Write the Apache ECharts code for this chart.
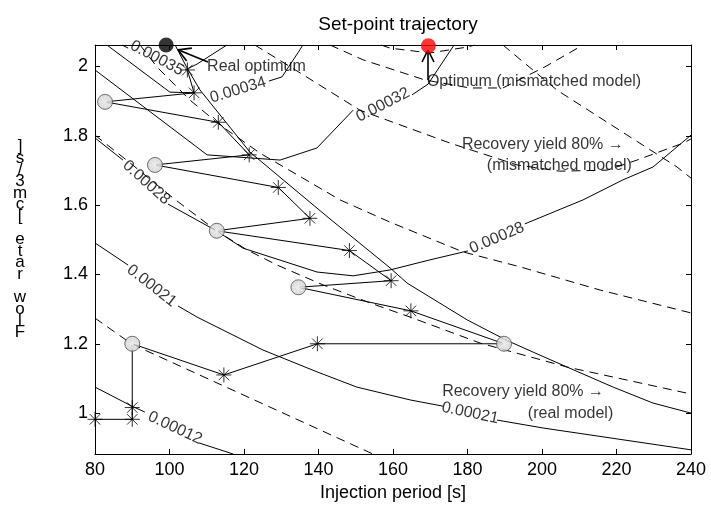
<!DOCTYPE html>
<html>
<head>
<meta charset="utf-8">
<script src="https://cdn.jsdelivr.net/npm/echarts@6/dist/echarts.min.js"></script>
<style>
  html, body { margin: 0; padding: 0; background: #fff; }
  #box { width: 711px; height: 509px; }
</style>
</head>
<body>
<div id="box"></div>
<script>
  // axis ticks
  const xTicks = [80, 100, 120, 140, 160, 180, 200, 220, 240];
  const yTicks = [1, 1.2, 1.4, 1.6, 1.8, 2];

  // set-point trajectory (injection period [s], flow rate [cm3/s])
  const trajPeriod = [80, 90, 90, 90, 114.6, 139.7, 189.8, 164.8, 134.6, 159.5, 148.3, 112.7, 137.7, 129.2, 96.1, 121.4, 113.1, 82.7, 106.6, 104.8];
  const trajFlow = [0.982, 0.982, 1.016, 1.2, 1.11, 1.2, 1.2, 1.295, 1.363, 1.382, 1.469, 1.526, 1.562, 1.651, 1.716, 1.745, 1.839, 1.898, 1.924, 1.99];
  const trajIsSetPoint = [0, 0, 0, 1, 0, 0, 1, 0, 1, 0, 0, 1, 0, 0, 1, 0, 0, 1, 0, 0];

  const realOptimum = [99.1, 2.062];
  const mismatchOptimum = [169.5, 2.06];

  // productivity contours, real model (null = gap for inline label)
  const c12Period = [80, 89.9, 93.4, null, 107.9, 117.1];
  const c12Flow = [1.075, 1.020, 1.003, null, 0.914, 0.882];
  const c21Period = [80, 88.9, null, 102.3, 107.4, 125.1, 139.6, 150.3, 164.6, 173.4, null, 187.9, 200.3, 240];
  const c21Flow = [1.491, 1.427, null, 1.309, 1.277, 1.182, 1.119, 1.075, 1.038, 1.020, null, 0.980, 0.957, 0.894];
  const c28Period = [80, 87.5, null, 99.6, 112.75, 119.7, 139.6, 149.3, 159.2, 169.9, 180.1, null, 195.4, 211.0, 221.75, 229.8, 240];
  const c28Flow = [1.794, 1.730, null, 1.603, 1.525, 1.476, 1.407, 1.396, 1.413, 1.442, 1.468, null, 1.546, 1.615, 1.673, 1.710, 1.802];
  const c32Period = [80, 110.1, 129.7, 139.6, 149.3, null, 165.1, 169.4, 176.4];
  const c32Flow = [1.99, 1.745, 1.730, 1.765, 1.874, null, 1.918, 1.949, 2.062];
  const c34Period = [83.2, 100.1, 106.3, null, 126.7, 130.2, 135.0, 135.8];
  const c34Flow = [2.062, 1.926, 1.924, null, 1.958, 1.970, 2.048, 2.062];
  const c35Period = [87.25, 88.9, null, 104.2, 107.4, 115.4];
  const c35Flow = [2.062, 2.053, null, 1.990, 2.007, 2.062];
  // recovery yield 80 %, real model
  const ryRealPeriod = [101.5, 104.7, 108.2, 121.6, 130.5, 143.1, 159.2, 163.8, 179.9, 190.3, 197.6, 206.7, 219.1, 229.8, 240];
  const ryRealFlow = [2.062, 1.996, 1.932, 1.753, 1.673, 1.560, 1.419, 1.375, 1.269, 1.211, 1.176, 1.133, 1.075, 1.029, 1.000];

  // mismatched model (dashed)
  const m1Period = [80, 89.4, 100.9, 112.75, 120.8, 128.9, 141.2, 153.8, 164.6, 183.4, 206.7, 240];
  const m1Flow = [1.802, 1.722, 1.621, 1.525, 1.471, 1.427, 1.370, 1.318, 1.277, 1.202, 1.133, 1.055];
  const m2Period = [80, 89.9, 154.6];
  const m2Flow = [1.274, 1.199, 0.882];
  const m3Period = [92.1, 96.6, 105.5, 113.6, 124.3, 135.8, 145.8, 159.2, 178.8, 194.1, 215.6, 240];
  const m3Flow = [2.062, 1.999, 1.903, 1.831, 1.750, 1.678, 1.615, 1.551, 1.465, 1.422, 1.355, 1.289];
  const m4Period = [122.9, 132.9, 151.1, 175.3, 193.3, 204.8, 217.5, 225.5, 237.9, 240];
  const m4Flow = [2.062, 1.996, 1.874, 1.779, 1.716, 1.698, 1.701, 1.730, 1.779, 1.791];
  const m5Period = [143.1, 152.0, 168.6, 180.7, 189.5, 200.8, 211.0];
  const m5Flow = [2.062, 2.019, 1.961, 1.938, 1.938, 1.999, 2.062];
  const m6Period = [156.8, 159.2, 169.9, 179.9, 182.0];
  const m6Flow = [2.062, 2.053, 2.039, 2.056, 2.062];
  const ryMisPeriod = [189.5, 204.0, 223.6, 236.25, 240];
  const ryMisFlow = [2.062, 1.932, 1.797, 1.710, 1.678];

  // arrows
  const realArrowPeriod = [110.3, 102.3, 106.0, null, 102.3, 104.6];
  const realArrowFlow = [2.013, 2.048, 2.053, null, 2.048, 2.016];
  const misArrowPeriod = [169.4, 169.4, 167.8, null, 169.4, 171.0];
  const misArrowFlow = [1.961, 2.048, 2.013, null, 2.048, 2.013];

  // inline contour labels
  const contourLabelText = ['0.00035', '0.00034', '0.00032', '0.00028', '0.00028', '0.00021', '0.00021', '0.00012'];
  const contourLabelPeriod = [96.6, 118.4, 157.3, 93.8, 187.9, 95.2, 180.7, 101.5];
  const contourLabelFlow = [2.024, 1.932, 1.889, 1.665, 1.505, 1.367, 1.000, 0.957];
  const contourLabelAngle = [-28, 17, 27, -42, 23, -38, -12, -25];

  // annotations (left aligned)
  const noteText = ['Real optimum', 'Optimum (mismatched model)', 'Recovery yield 80% \u2192', '(mismatched model)', 'Recovery yield 80% \u2192', '(real model)'];
  const notePeriod = [110.1, 169.1, 178.5, 185.2, 173.2, 196.2];
  const noteFlow = [1.999, 1.955, 1.774, 1.713, 1.061, 1.000];

  const yLabel = 'Flow rate [cm3/s]';

  const font = 'Liberation Sans, Arial, Helvetica, sans-serif';
  const starPath = 'path://M0,10 L20,10 M10,0 L10,20 M3,3 L17,17 M3,17 L17,3';
  const dash = [9, 6];

  function pieces(px, py) {
    const out = [];
    let cur = [];
    px.forEach((x, i) => {
      if (x === null) {
        if (cur.length) out.push(cur);
        cur = [];
      } else {
        cur.push([x, py[i]]);
      }
    });
    if (cur.length) out.push(cur);
    return out;
  }

  const lines = [
    [c12Period, c12Flow, 'solid'], [c21Period, c21Flow, 'solid'], [c28Period, c28Flow, 'solid'],
    [c32Period, c32Flow, 'solid'], [c34Period, c34Flow, 'solid'], [c35Period, c35Flow, 'solid'],
    [ryRealPeriod, ryRealFlow, 'solid'],
    [m1Period, m1Flow, dash], [m2Period, m2Flow, dash], [m3Period, m3Flow, dash],
    [m4Period, m4Flow, dash], [m5Period, m5Flow, dash], [m6Period, m6Flow, dash],
    [ryMisPeriod, ryMisFlow, dash],
  ];

  const series = [];
  lines.forEach(([px, py, type]) => {
    pieces(px, py).forEach((d) => {
      series.push({
        type: 'line', data: d, symbol: 'none', silent: true, z: 2,
        lineStyle: { color: '#000', width: 1, type },
      });
    });
  });

  [[realArrowPeriod, realArrowFlow], [misArrowPeriod, misArrowFlow]].forEach(([px, py]) => {
    pieces(px, py).forEach((d) => {
      series.push({
        type: 'line', data: d, symbol: 'none', silent: true, z: 6,
        lineStyle: { color: '#000', width: 1.6 },
      });
    });
  });

  const traj = trajPeriod.map((x, i) => [x, trajFlow[i]]);
  const setPoints = traj.filter((p, i) => trajIsSetPoint[i]);
  const moves = traj.filter((p, i) => !trajIsSetPoint[i]);

  series.push(
    {
      type: 'line', data: traj, symbol: 'none', silent: true, z: 3,
      lineStyle: { color: '#000', width: 1 },
    },
    {
      type: 'scatter', data: moves, symbol: starPath, symbolSize: 15, silent: true, z: 4,
      itemStyle: { color: 'rgba(0,0,0,0)', borderColor: '#000', borderWidth: 1 },
    },
    {
      type: 'scatter', data: setPoints, symbol: 'circle', symbolSize: 15, silent: true, z: 5,
      itemStyle: { color: '#d6d6d6', borderColor: '#505050', borderWidth: 1 },
    },
    {
      type: 'scatter', data: setPoints, symbol: starPath, symbolSize: 11, silent: true, z: 6,
      itemStyle: { color: 'rgba(0,0,0,0)', borderColor: '#f2f2f2', borderWidth: 1 },
    },
    {
      type: 'scatter', data: [realOptimum], symbol: 'circle', symbolSize: 15, silent: true, clip: false, z: 7,
      itemStyle: { color: '#000' },
    },
    {
      type: 'scatter', data: [mismatchOptimum], symbol: 'circle', symbolSize: 15, silent: true, clip: false, z: 7,
      itemStyle: { color: '#ff0000' },
    },
    {
      type: 'scatter', symbolSize: 0, silent: true, clip: false, z: 8,
      data: contourLabelText.map((t, i) => ({
        name: t,
        value: [contourLabelPeriod[i], contourLabelFlow[i]],
        label: { rotate: contourLabelAngle[i] },
      })),
      label: {
        show: true, position: 'inside', formatter: (p) => p.name,
        color: '#000', fontSize: 16, fontFamily: font,
      },
    },
    {
      type: 'scatter', symbolSize: 0, silent: true, clip: false, z: 8,
      data: noteText.map((t, i) => ({ name: t, value: [notePeriod[i], noteFlow[i]] })),
      label: {
        show: true, position: 'right', distance: 0, formatter: (p) => p.name,
        color: '#000', fontSize: 16, fontFamily: font,
      },
    }
  );

  const axisCommon = {
    axisLine: { show: true, lineStyle: { color: '#000', width: 1 } },
    axisTick: { show: true, inside: true, length: 5, lineStyle: { color: '#000' } },
    splitLine: { show: false },
  };

  const chart = echarts.init(document.getElementById('box'));
  chart.setOption({
    animation: false,
    backgroundColor: '#fff',
    title: {
      text: 'Set-point trajectory', left: 393, top: 10, textAlign: 'center',
      textStyle: { color: '#000', fontSize: 19, fontWeight: 'normal', fontFamily: font },
    },
    grid: { left: 95, right: 20, top: 45, bottom: 55 },
    xAxis: [
      {
        ...axisCommon, type: 'value', min: 80, max: 240, interval: 20, position: 'bottom',
        axisLabel: { color: '#000', fontSize: 18, fontFamily: font, margin: 7 },
        name: 'Injection period [s]', nameLocation: 'middle', nameGap: 30,
        nameTextStyle: { color: '#000', fontSize: 18, fontFamily: font },
      },
      {
        ...axisCommon, type: 'value', min: 80, max: 240, interval: 20, position: 'top',
        axisLabel: { show: false },
      },
    ],
    yAxis: [
      {
        ...axisCommon, type: 'value', min: 0.882, max: 2.062, position: 'left',
        axisTick: { ...axisCommon.axisTick, customValues: yTicks },
        axisLabel: {
          color: '#000', fontSize: 18, fontFamily: font, margin: 7,
          customValues: yTicks, formatter: (v) => String(+v.toFixed(1)),
        },
      },
      {
        ...axisCommon, type: 'value', min: 0.882, max: 2.062, position: 'right',
        axisTick: { ...axisCommon.axisTick, customValues: yTicks },
        axisLabel: { show: false },
      },
    ],
    graphic: [
      {
        type: 'text', x: 20, y: 141, silent: true,
        style: {
          text: yLabel.split('').reverse().join('\n'),
          fill: '#000', fontSize: 17, lineHeight: 11.6, fontFamily: font, align: 'center',
        },
      },
    ],
    series,
  });
</script>
</body>
</html>
